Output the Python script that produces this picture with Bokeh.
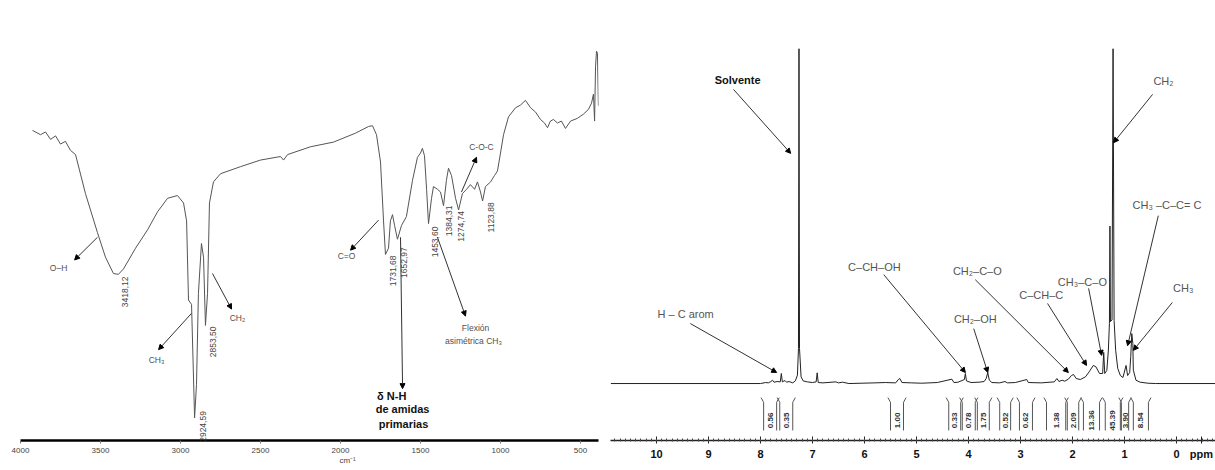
from math import pi
from bokeh.plotting import figure
from bokeh.layouts import row
from bokeh.models import Range1d, Label, Arrow, NormalHead, FixedTicker, LinearAxis
from bokeh.core.properties import value
from bokeh.embed import file_html
from bokeh.resources import INLINE

# ---------------- IR spectrum data ----------------
ir_wavenumber = [3925, 3875, 3844, 3812, 3781, 3750, 3719, 3688, 3656, 3594,
                 3519, 3469, 3419, 3388, 3356, 3281, 3206, 3144, 3081, 3019,
                 2981, 2962, 2950, 2931, 2912, 2900, 2888, 2869, 2856, 2844,
                 2831, 2819, 2794, 2750, 2625, 2500, 2375, 2356, 2331, 2188,
                 2044, 1906, 1825, 1800, 1775, 1750, 1731, 1719, 1700, 1688,
                 1675, 1662, 1644, 1619, 1588, 1550, 1519, 1500, 1488, 1475,
                 1462, 1450, 1431, 1419, 1394, 1375, 1356, 1338, 1325, 1306,
                 1281, 1262, 1238, 1212, 1188, 1162, 1144, 1125, 1112, 1094,
                 1062, 1038, 1019, 1000, 981, 950, 906, 875, 844, 812,
                 781, 750, 725, 706, 688, 669, 644, 619, 594, 562,
                 519, 481, 450, 431, 419, 412, 406, 400, 394, 388]
ir_transmittance = [79.5, 78.4, 79.1, 77.2, 78.1, 76.0, 76.7, 74.4, 73.3, 63.3,
                    53.3, 47.0, 42.8, 42.6, 44.0, 49.3, 54.0, 58.6, 62.1, 62.8,
                    60.9, 56.3, 36.0, 34.9, 5.8, 14.4, 37.7, 50.5, 47.0, 29.5,
                    37.7, 60.9, 66.3, 68.4, 70.2, 71.9, 72.8, 71.9, 73.3, 75.3,
                    76.5, 78.8, 80.5, 80.7, 78.4, 71.4, 56.3, 47.7, 49.3, 56.3,
                    57.9, 55.1, 51.6, 55.1, 57.4, 66.7, 72.6, 73.7, 74.9, 73.0,
                    64.4, 55.6, 62.1, 65.1, 64.4, 63.7, 60.2, 66.7, 69.8, 67.9,
                    62.1, 59.1, 63.3, 64.4, 65.6, 64.4, 66.3, 63.7, 61.4, 65.1,
                    66.3, 67.9, 69.1, 73.7, 78.4, 83.0, 85.3, 86.0, 87.2, 85.3,
                    84.2, 82.3, 81.4, 80.2, 81.9, 82.3, 81.4, 81.9, 80.0, 81.9,
                    82.6, 83.7, 84.9, 86.5, 88.8, 81.9, 95.8, 99.8, 99.3, 85.8]
ir_ticks = [4000, 3500, 3000, 2500, 2000, 1500, 1000, 500]
ir_unit = "cm⁻¹"
ir_peak_labels = ["3418,12", "2924,59", "2853,50", "1731,68", "1652,97",
                  "1453,60", "1384,31", "1274,74", "1123,88"]

# ---------------- 1H NMR spectrum data ----------------
nmr_ppm = [10.88, 8.00, 7.90, 7.85, 7.80, 7.77, 7.74, 7.68, 7.62, 7.60,
           7.58, 7.53, 7.50, 7.45, 7.38, 7.33, 7.29, 7.27, 7.26, 7.25,
           7.22, 7.18, 7.10, 7.00, 6.93, 6.91, 6.89, 6.80, 6.55, 6.50,
           6.42, 6.30, 5.80, 5.60, 5.40, 5.35, 5.32, 5.28, 5.10, 4.90,
           4.60, 4.32, 4.28, 4.20, 4.08, 4.06, 4.04, 3.95, 3.80, 3.70,
           3.66, 3.63, 3.60, 3.55, 3.40, 3.30, 3.25, 3.10, 2.88, 2.85,
           2.60, 2.35, 2.30, 2.26, 2.20, 2.15, 2.08, 2.02, 1.98, 1.93,
           1.85, 1.75, 1.68, 1.60, 1.55, 1.48, 1.42, 1.40, 1.38, 1.34,
           1.31, 1.29, 1.28, 1.27, 1.24, 1.22, 1.20, 1.17, 1.13, 1.08,
           1.03, 0.97, 0.94, 0.90, 0.88, 0.86, 0.84, 0.83, 0.78, 0.70,
           0.55, 0.40, -0.80]
nmr_intensity = [0.0, 0.0, 0.3, 0.2, 0.6, 1.0, 0.4, 0.6, 0.5, 3.0,
                 0.5, 0.9, 0.4, 0.6, 0.2, 0.8, 2.5, 10.5, 100.0, 10.5,
                 2.0, 0.8, 0.5, 0.3, 0.5, 3.2, 0.3, 0.2, 0.5, 0.2,
                 0.4, 0.0, 0.2, 0.3, 0.2, 1.2, 1.5, 0.3, 0.2, 0.1,
                 0.3, 1.3, 0.3, 0.4, 1.2, 3.0, 0.8, 0.3, 0.4, 0.6,
                 1.5, 3.3, 1.0, 0.3, 0.2, 0.6, 0.2, 0.3, 1.2, 0.3,
                 0.2, 0.5, 1.5, 0.6, 1.0, 0.7, 1.3, 2.4, 2.7, 1.5,
                 1.2, 2.0, 3.5, 5.4, 5.0, 3.0, 3.0, 9.3, 3.0, 3.9,
                 10.0, 18.0, 47.0, 18.5, 19.0, 100.0, 18.8, 9.9, 4.5, 2.4,
                 1.8, 5.4, 2.4, 3.3, 8.0, 14.9, 12.0, 4.0, 1.0, 0.4,
                 0.1, 0.0, 0.0]
nmr_ticks = [0, 1, 2, 3, 4, 5, 6, 7, 8, 9, 10]
nmr_unit = "ppm"

integral_values = ["0.56", "0.35", "1.00", "0.33", "0.78", "1.75", "0.52",
                   "0.62", "1.38", "2.09", "13.36", "45.39", "3.90", "8.54"]
integral_from = [7.94, 7.63, 5.50, 4.38, 4.12, 3.83, 3.40, 3.02, 2.50, 2.10, 1.79, 1.37, 1.06, 0.83]
integral_to = [7.69, 7.38, 5.25, 4.15, 3.87, 3.60, 3.19, 2.77, 2.13, 1.88, 1.48, 1.08, 0.92, 0.54]

GRAY = "#505050"
SANS = "Liberation Sans"


def add_label(p, x, y, text, size="9px", font=SANS, color=GRAY, angle=0.0,
              align="center", style="normal"):
    p.add_layout(Label(x=x, y=y, text=text, text_font=font, text_font_size=size,
                       text_color=color, angle=angle, text_align=align,
                       text_baseline="middle", text_font_style=style))


def add_arrow(p, x0, y0, x1, y1, color="#333333"):
    p.add_layout(Arrow(end=NormalHead(size=5, fill_color="black", line_color="black", line_width=1),
                       x_start=x0, y_start=y0, x_end=x1, y_end=y1,
                       line_color=color, line_width=1))


# ================= IR figure =================
ir = figure(width=600, height=470, x_range=Range1d(4000, 387.5), y_range=Range1d(0, 100.5),
            y_axis_location=None, output_backend="svg", toolbar_location=None,
            min_border_left=20, min_border_right=2, min_border_top=10, min_border_bottom=28)
ir.xgrid.visible = False
ir.ygrid.visible = False
ir.outline_line_color = None
ir.line(ir_wavenumber, ir_transmittance, line_color="#555555", line_width=1)

xa = ir.xaxis[0]
xa.ticker = FixedTicker(ticks=ir_ticks)
xa.axis_line_width = 2.5
xa.axis_line_color = "black"
xa.major_tick_out = 3
xa.major_tick_in = 0
xa.major_tick_line_color = "#777777"
xa.minor_tick_out = 0
xa.minor_tick_in = 0
xa.major_label_text_font = SANS
xa.major_label_text_font_size = "8px"
xa.major_label_text_color = "#444444"
xa.major_label_standoff = 4

# unit label as a second, line-less axis under the tick labels
ua = LinearAxis(ticker=FixedTicker(ticks=[1956]), major_label_overrides={1956: ir_unit},
                axis_line_color=None, major_tick_line_color=None, minor_tick_line_color=None,
                major_tick_out=0, major_tick_in=0, major_label_standoff=0,
                major_label_text_font=SANS, major_label_text_font_size="8px",
                major_label_text_color="#444444")
ir.add_layout(ua, "below")

# peak labels (vertical)
ir_peak_pos = [(3350, 38.1), (2862, 3.6), (2800, 25.3), (1675, 43.5), (1606, 45.6),
               (1412, 50.9), (1325, 56.3), (1250, 54.9), (1062, 57.2)]
for txt, (x, y) in zip(ir_peak_labels, ir_peak_pos):
    add_label(ir, x, y, txt, size="8.5px", color="#444444", angle=pi / 2)

# group annotations
add_label(ir, 3762, 44.2, "O–H", size="8.5px")
add_arrow(ir, 3519, 52.1, 3662, 46.3)
add_label(ir, 3150, 20.7, "CH₃", size="8.5px")
add_arrow(ir, 2931, 32.6, 3137, 23.3)
add_label(ir, 2644, 31.4, "CH₂", size="8.5px")
add_arrow(ir, 2800, 42.8, 2681, 33.7)
add_label(ir, 1962, 47.4, "C=O", size="8.5px")
add_arrow(ir, 1762, 56.5, 1937, 48.8)
add_arrow(ir, 1625, 52.1, 1612, 13.3)
add_label(ir, 1680, 11.4, "δ N-H", size="11px", color="#111111", style="bold")
add_label(ir, 1612, 8.0, "de amidas", size="11px", color="#111111", style="bold")
add_label(ir, 1606, 4.3, "primarias", size="11px", color="#111111", style="bold")
add_arrow(ir, 1394, 52.1, 1219, 31.9)
add_label(ir, 1156, 28.8, "Flexión", size="8.5px")
add_label(ir, 1169, 25.6, "asimétrica CH₃", size="8.5px")
add_label(ir, 1119, 75.3, "C-O-C", size="8.5px")
add_arrow(ir, 1244, 63.7, 1150, 72.6)

# ================= NMR figure =================
nmr = figure(width=615, height=470, x_range=Range1d(10.885, -0.75), y_range=Range1d(-17.0, 100),
             y_axis_location=None, output_backend="svg", toolbar_location=None,
             min_border_left=10, min_border_right=0, min_border_top=48, min_border_bottom=30)
nmr.xgrid.visible = False
nmr.ygrid.visible = False
nmr.outline_line_color = None
nmr.line(nmr_ppm, nmr_intensity, line_color="#222222", line_width=1)

# integrals
for lo, hi in zip(integral_from, integral_to):
    nmr.segment(x0=[lo, hi], y0=[-5.6, -5.6], x1=[lo, hi], y1=[-14.0, -14.0],
                line_color="#555555", line_width=1)
    nmr.segment(x0=[lo, hi], y0=[-5.6, -5.6], x1=[lo + 0.05, hi - 0.05], y1=[-4.2, -4.2],
                line_color="#555555", line_width=1)
mid = [(a + b) / 2 for a, b in zip(integral_from, integral_to)]
nmr.text(x=mid, y=[-11.0] * len(mid), text=integral_values, angle=pi / 2,
         text_font=value(SANS), text_font_size="8px", text_font_style="bold",
         text_color="#333333", text_align="center", text_baseline="middle")

na = nmr.xaxis[0]
unit_pos = -0.48
na.ticker = FixedTicker(ticks=nmr_ticks + [unit_pos],
                        minor_ticks=[round(-0.7 + 0.1 * i, 2) for i in range(116)])
na.major_label_overrides = {unit_pos: nmr_unit}
na.axis_line_width = 1.5
na.axis_line_color = "#222222"
na.major_tick_in = 4
na.major_tick_out = 3
na.minor_tick_in = 2
na.minor_tick_out = 1
na.major_tick_line_color = "#222222"
na.minor_tick_line_color = "#444444"
na.major_label_text_font = SANS
na.major_label_text_font_style = "bold"
na.major_label_text_font_size = "11px"
na.major_label_text_color = "#111111"
na.major_label_standoff = 4

NC = "#555555"
add_label(nmr, 8.44, 90.7, "Solvente", size="11px", color="#111111", style="bold")
add_arrow(nmr, 8.52, 87.8, 7.42, 68.7)
add_label(nmr, 9.44, 20.9, "H – C arom", size="11px", color=NC)
add_arrow(nmr, 9.35, 17.9, 7.69, 3.3)
add_label(nmr, 5.81, 34.9, "C–CH–OH", size="11px", color=NC)
add_arrow(nmr, 5.63, 32.5, 4.06, 3.3)
add_label(nmr, 3.87, 19.4, "CH₂–OH", size="11px", color=NC)
add_arrow(nmr, 3.90, 16.4, 3.63, 3.3)
add_label(nmr, 3.83, 33.7, "CH₂–C–O", size="11px", color=NC)
add_arrow(nmr, 3.87, 31.0, 2.08, 3.3)
add_label(nmr, 2.60, 26.3, "C–CH–C", size="11px", color=NC)
add_arrow(nmr, 2.48, 23.9, 1.73, 5.4)
add_label(nmr, 1.81, 30.4, "CH₃–C–O", size="11px", color=NC)
add_arrow(nmr, 1.69, 28.4, 1.44, 8.4)
add_label(nmr, 0.25, 90.4, "CH₂", size="11px", color=NC)
add_arrow(nmr, 0.46, 86.3, 1.21, 71.9)
add_label(nmr, 0.846, 53.4, "CH₃ –C–C= C", size="11px", color=NC, align="left")
add_arrow(nmr, 0.35, 50.1, 0.94, 11.3)
add_label(nmr, -0.13, 28.4, "CH₃", size="11px", color=NC)
add_arrow(nmr, 0.08, 24.2, 0.83, 9.9)

layout = row(ir, nmr)
open("out.html", "w").write(file_html(layout, INLINE))
